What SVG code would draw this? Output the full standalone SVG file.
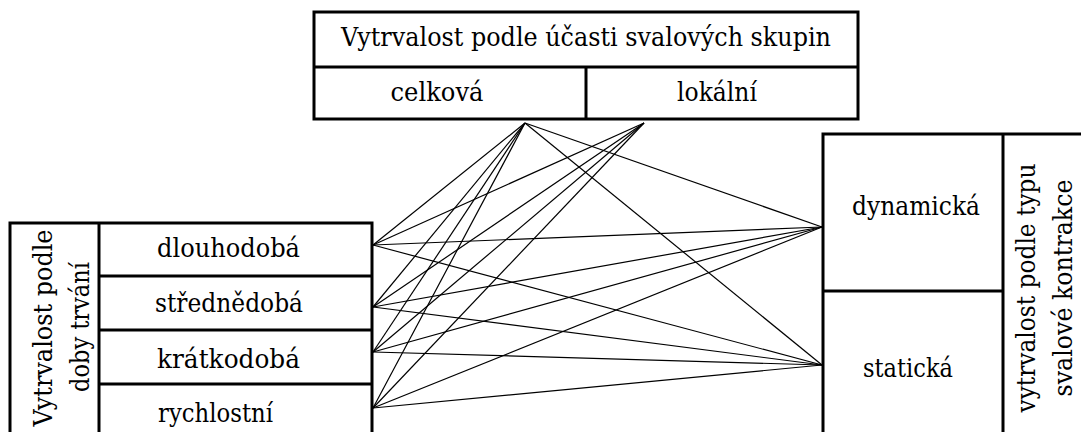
<svg xmlns="http://www.w3.org/2000/svg" width="1081" height="432" viewBox="0 0 1081 432">
  <style>
    .box { fill: none; stroke: #000; stroke-width: 3; }
    .div { stroke: #000; stroke-width: 3; }
    .t { font-family: "DejaVu Serif", "Liberation Serif", "Times New Roman", serif; font-size: 26px; fill: #000; }
    .c { text-anchor: middle; }
    .link { stroke: #000; stroke-width: 1.2; fill: none; }
  </style>
  <rect width="1081" height="432" fill="#fff"/>

  <!-- muscle-group participation -->
  <g id="skupiny">
    <rect class="box" x="314" y="12" width="544" height="107"/>
    <line class="div" x1="314" y1="67" x2="858" y2="67"/>
    <text class="t c" x="586" y="46" textLength="490" lengthAdjust="spacingAndGlyphs">Vytrvalost podle účasti svalových skupin</text>
  </g>
  <g id="celkova">
    <line class="div" x1="586" y1="67" x2="586" y2="119"/>
    <text class="t c" x="437" y="101" textLength="93" lengthAdjust="spacingAndGlyphs">celková</text>
  </g>
  <g id="lokalni">
    <text class="t c" x="717" y="101" textLength="80" lengthAdjust="spacingAndGlyphs">lokální</text>
  </g>

  <!-- duration -->
  <g id="doba">
    <path class="box" d="M10,440 V223 H372 V440"/>
    <line class="div" x1="99" y1="223" x2="99" y2="440"/>
    <text class="t c" transform="translate(52,328) rotate(-90)" textLength="197" lengthAdjust="spacingAndGlyphs">Vytrvalost podle</text>
    <text class="t c" transform="translate(89,327) rotate(-90)" textLength="130" lengthAdjust="spacingAndGlyphs">doby trvání</text>
  </g>
  <g id="dlouhodoba">
    <text class="t" x="157" y="257" textLength="143" lengthAdjust="spacingAndGlyphs">dlouhodobá</text>
  </g>
  <g id="strednedoba">
    <line class="div" x1="99" y1="276" x2="372" y2="276"/>
    <text class="t" x="155" y="312" textLength="148" lengthAdjust="spacingAndGlyphs">střednědobá</text>
  </g>
  <g id="kratkodoba">
    <line class="div" x1="99" y1="330" x2="372" y2="330"/>
    <text class="t" x="157" y="368" textLength="143" lengthAdjust="spacingAndGlyphs">krátkodobá</text>
  </g>
  <g id="rychlostni">
    <line class="div" x1="99" y1="384" x2="372" y2="384"/>
    <text class="t" x="158" y="422" textLength="115" lengthAdjust="spacingAndGlyphs">rychlostní</text>
  </g>

  <!-- contraction type -->
  <g id="kontrakce">
    <path class="box" d="M823,440 V134 H1090"/>
    <line class="div" x1="1003" y1="134" x2="1003" y2="440"/>
    <text class="t c" transform="translate(1035,288) rotate(-90)" textLength="249" lengthAdjust="spacingAndGlyphs">vytrvalost podle typu</text>
    <text class="t c" transform="translate(1072,288) rotate(-90)" textLength="217" lengthAdjust="spacingAndGlyphs">svalové kontrakce</text>
  </g>
  <g id="dynamicka">
    <text class="t c" x="916" y="215" textLength="128" lengthAdjust="spacingAndGlyphs">dynamická</text>
  </g>
  <g id="staticka">
    <line class="div" x1="823" y1="291" x2="1003" y2="291"/>
    <text class="t c" x="908" y="377" textLength="90" lengthAdjust="spacingAndGlyphs">statická</text>
  </g>

  <!-- links between categories -->
  <g id="connectors" class="link">
    <line x1="373" y1="245" x2="525" y2="123"/>
    <line x1="373" y1="245" x2="644" y2="123"/>
    <line x1="373" y1="245" x2="822" y2="227"/>
    <line x1="373" y1="245" x2="822" y2="365"/>
    <line x1="373" y1="307" x2="525" y2="123"/>
    <line x1="373" y1="307" x2="644" y2="123"/>
    <line x1="373" y1="307" x2="822" y2="227"/>
    <line x1="373" y1="307" x2="822" y2="365"/>
    <line x1="373" y1="352" x2="525" y2="123"/>
    <line x1="373" y1="352" x2="644" y2="123"/>
    <line x1="373" y1="352" x2="822" y2="227"/>
    <line x1="373" y1="352" x2="822" y2="365"/>
    <line x1="373" y1="408" x2="525" y2="123"/>
    <line x1="373" y1="408" x2="644" y2="123"/>
    <line x1="373" y1="408" x2="822" y2="227"/>
    <line x1="373" y1="408" x2="822" y2="365"/>
    <line x1="525" y1="123" x2="822" y2="227"/>
    <line x1="525" y1="123" x2="822" y2="365"/>
  </g>
</svg>
